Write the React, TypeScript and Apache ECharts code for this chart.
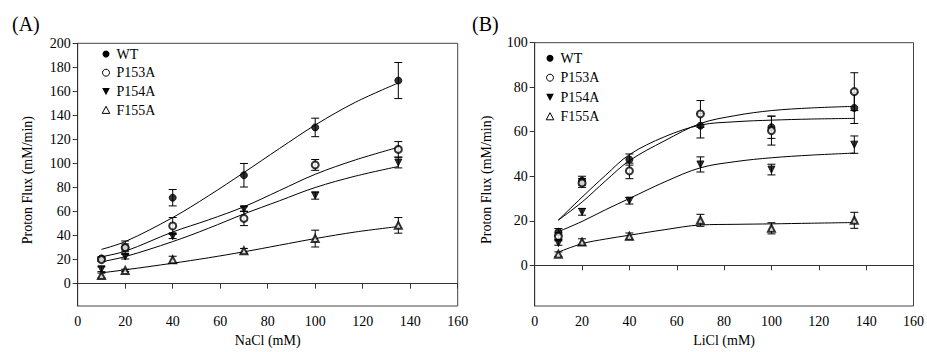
import React, { useEffect, useRef } from "react";
import * as echarts from "echarts";

// ---- Data ----
const concentrations = [10, 20, 40, 70, 100, 135];
const seriesNames = ["WT", "P153A", "P154A", "F155A"];

// Panel A: NaCl
const naWT = [21, 30, 71.5, 90.2, 130, 169];
const naWTErr = [1.5, 5.5, 6.8, 9.8, 7.7, 15];
const naP153A = [20, 30, 48, 54.3, 98.8, 111.7];
const naP153AErr = [1.5, 3, 7, 6, 4.5, 6.5];
const naP154A = [12, 22.5, 39.5, 62, 73.3, 100.8];
const naP154AErr = [2, 2, 2, 2, 3, 4.5];
const naF155A = [6.8, 11, 19.8, 27.3, 37.5, 48.5];
const naF155AErr = [2, 1, 3, 2, 7, 6.5];

// Panel A fitted curves
const naFitX = [10, 20, 40, 55, 70, 85, 100, 117, 135];
const naFitWT = [28.5, 35, 55, 73, 92.5, 112.5, 132, 151, 167];
const naFitP153A = [22.4, 27, 43, 53, 64, 77.5, 91, 103, 113.5];
const naFitP154A = [18.2, 22.5, 35, 46, 58, 69, 80, 89.5, 97.5];
const naFitF155A = [9, 11.5, 17, 21.5, 26.5, 32, 37.5, 43, 47.5];

// Panel B: LiCl
const liWT = [15, 38, 47.5, 62.7, 62, 70.7];
const liWTErr = [1.5, 2, 2.5, 5.5, 5, 7];
const liP153A = [13, 37, 42.4, 68, 60.5, 78];
const liP153AErr = [1.5, 2, 3.5, 6, 6.5, 8.5];
const liP154A = [10, 24, 29, 45.3, 43, 54.2];
const liP154AErr = [1, 1.5, 1.5, 3.4, 2.4, 3.9];
const liF155A = [5, 10.4, 13, 20.2, 16.6, 20.2];
const liF155AErr = [1, 1.5, 1.5, 2.7, 2.5, 3.6];

// Panel B fitted curves
const liFitX = [10, 20, 30, 40, 55, 70, 85, 100, 117, 135];
const liFitWT = [20.3, 30.6, 40.5, 49.7, 57.8, 63, 64.5, 65.2, 65.7, 66];
const liFitP153A = [20.3, 28.4, 38, 47, 56, 63.7, 67.3, 69.5, 70.7, 71.4];
const liFitP154A = [15.1, 19.7, 25, 30, 37.5, 43.8, 46.6, 48.3, 49.5, 50.4];
const liFitF155A = [5.9, 9.7, 11.8, 13.5, 16, 18.1, 18.4, 18.6, 18.9, 19.2];

const yTicksA = [0, 20, 40, 60, 80, 100, 120, 140, 160, 180, 200];
const yTicksB = [0, 20, 40, 60, 80, 100];

const FONT = "Liberation Serif, serif";

type SymSpec = { symbol: string; rotate: number };
const symbols: SymSpec[] = [
  { symbol: "circle", rotate: 0 },
  { symbol: "emptyCircle", rotate: 0 },
  { symbol: "triangle", rotate: 180 },
  { symbol: "emptyTriangle", rotate: 0 },
];

function errData(vals: number[], errs: number[]) {
  return concentrations.map((x, i) => [x, vals[i] - errs[i], vals[i] + errs[i]]);
}

function errRender(params: any, api: any) {
  const x = api.value(0);
  const lo = api.value(1);
  const hi = api.value(2);
  const p1 = api.coord([x, hi]);
  const p2 = api.coord([x, lo]);
  const w = 4;
  const st = { stroke: "#000", lineWidth: 1 };
  return {
    type: "group",
    children: [
      { type: "line", shape: { x1: p1[0], y1: p1[1], x2: p2[0], y2: p2[1] }, style: st },
      { type: "line", shape: { x1: p1[0] - w, y1: p1[1], x2: p1[0] + w, y2: p1[1] }, style: st },
      { type: "line", shape: { x1: p2[0] - w, y1: p2[1], x2: p2[0] + w, y2: p2[1] }, style: st },
    ],
  };
}

function panelSeries(
  idx: number,
  vals: number[][],
  errs: number[][],
  fitX: number[],
  fits: number[][]
) {
  const out: any[] = [];
  fits.forEach((f, i) => {
    out.push({
      type: "line",
      name: seriesNames[i] + " fit",
      xAxisIndex: idx,
      yAxisIndex: idx,
      data: fitX.map((x, j) => [x, f[j]]),
      smooth: 0.35,
      showSymbol: false,
      symbol: "none",
      lineStyle: { color: "#000", width: 1 },
      z: 1,
      silent: true,
    });
  });
  vals.forEach((v, i) => {
    out.push({
      type: "custom",
      name: seriesNames[i] + " err",
      xAxisIndex: idx,
      yAxisIndex: idx,
      data: errData(v, errs[i]),
      renderItem: errRender,
      encode: { x: 0, y: [1, 2] },
      z: 2,
      silent: true,
    });
  });
  vals.forEach((v, i) => {
    out.push({
      type: "scatter",
      name: seriesNames[i],
      xAxisIndex: idx,
      yAxisIndex: idx,
      data: concentrations.map((x, j) => [x, v[j]]),
      symbol: symbols[i].symbol,
      symbolRotate: symbols[i].rotate,
      symbolSize: 7,
      itemStyle: { color: "#000", borderColor: "#000", borderWidth: 1 },
      z: 3,
    });
  });
  return out;
}

function legendGraphic(x0: number, y0: number, gap: number) {
  const children: any[] = [];
  seriesNames.forEach((name, i) => {
    const cy = y0 + i * gap;
    const r = 3.5;
    let mark: any;
    if (i === 0) {
      mark = { type: "circle", shape: { cx: x0, cy, r }, style: { fill: "#000" } };
    } else if (i === 1) {
      mark = { type: "circle", shape: { cx: x0, cy, r }, style: { fill: "#fff", stroke: "#000", lineWidth: 1 } };
    } else if (i === 2) {
      mark = {
        type: "polygon",
        shape: { points: [[x0 - 3.8, cy - 3.3], [x0 + 3.8, cy - 3.3], [x0, cy + 3.8]] },
        style: { fill: "#000" },
      };
    } else {
      mark = {
        type: "polygon",
        shape: { points: [[x0 - 3.8, cy + 3.3], [x0 + 3.8, cy + 3.3], [x0, cy - 3.8]] },
        style: { fill: "#fff", stroke: "#000", lineWidth: 1 },
      };
    }
    children.push(mark);
    children.push({
      type: "text",
      x: x0 + 10.5,
      y: cy,
      style: { text: name, fontFamily: FONT, fontSize: 14, fill: "#000", verticalAlign: "middle" },
    });
  });
  return children;
}

function xAxisOpt(gridIndex: number, name: string) {
  return {
    type: "value",
    gridIndex,
    min: 0,
    max: 160,
    interval: 20,
    name,
    nameLocation: "middle",
    nameGap: 27,
    nameTextStyle: { fontFamily: FONT, fontSize: 14, color: "#000" },
    axisLine: { show: true, lineStyle: { color: "#333", width: 1 } },
    axisTick: { show: true, length: 5, lineStyle: { color: "#333" } },
    axisLabel: { fontFamily: FONT, fontSize: 14, color: "#000", margin: 8 },
    splitLine: { show: false },
  };
}

function yAxisOpt(gridIndex: number, min: number, max: number, ticks: number[], gap: number) {
  return {
    type: "value",
    gridIndex,
    min,
    max,
    name: "Proton Flux (mM/min)",
    nameLocation: "middle",
    nameGap: gap,
    nameTextStyle: { fontFamily: FONT, fontSize: 14, color: "#000", padding: [0, 11, 0, 0] },
    axisLine: { show: true, lineStyle: { color: "#333", width: 1 } },
    axisTick: { show: true, length: 5, lineStyle: { color: "#333" }, customValues: ticks },
    axisLabel: { fontFamily: FONT, fontSize: 14, color: "#000", margin: 7, customValues: ticks },
    splitLine: { show: false },
  };
}

export default function App() {
  const ref = useRef<HTMLDivElement>(null);
  useEffect(() => {
    if (!ref.current) return;
    const chart = echarts.init(ref.current, undefined, { renderer: "svg" });
    const option: any = {
      animation: false,
      backgroundColor: "#fff",
      textStyle: { fontFamily: FONT },
      grid: [
        { left: 77.7, top: 43.3, width: 380, height: 266.7, show: true, borderColor: "#444", borderWidth: 1, backgroundColor: "transparent" },
        { left: 534.7, top: 42.7, width: 382, height: 268, show: true, borderColor: "#444", borderWidth: 1, backgroundColor: "transparent" },
      ],
      xAxis: [xAxisOpt(0, "NaCl (mM)"), xAxisOpt(1, "LiCl (mM)")],
      yAxis: [yAxisOpt(0, -18.6, 200, yTicksA, 43), yAxisOpt(1, -18.3, 100, yTicksB, 41.5)],
      series: [
        ...panelSeries(
          0,
          [naWT, naP153A, naP154A, naF155A],
          [naWTErr, naP153AErr, naP154AErr, naF155AErr],
          naFitX,
          [naFitWT, naFitP153A, naFitP154A, naFitF155A]
        ),
        ...panelSeries(
          1,
          [liWT, liP153A, liP154A, liF155A],
          [liWTErr, liP153AErr, liP154AErr, liF155AErr],
          liFitX,
          [liFitWT, liFitP153A, liFitP154A, liFitF155A]
        ),
      ],
      graphic: [
        { type: "text", left: 12, top: 14, style: { text: "(A)", fontFamily: FONT, fontSize: 20, fill: "#000" } },
        { type: "text", left: 472, top: 14, style: { text: "(B)", fontFamily: FONT, fontSize: 20, fill: "#000" } },
        { type: "group", children: legendGraphic(106, 54, 18.7) },
        { type: "group", children: legendGraphic(550, 58.3, 19.4) },
      ],
    };
    chart.setOption(option);
    return () => chart.dispose();
  }, []);
  return (
    <div
      ref={ref}
      style={{ position: "fixed", left: 0, top: 0, width: 927, height: 352, background: "#fff" }}
    />
  );
}
